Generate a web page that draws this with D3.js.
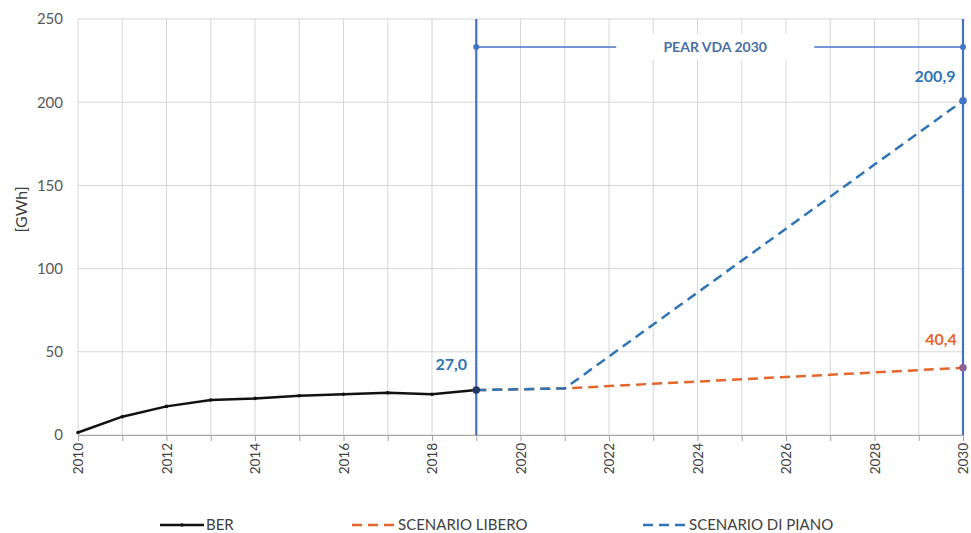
<!DOCTYPE html>
<html>
<head>
<meta charset="utf-8">
<script src="https://cdn.jsdelivr.net/npm/d3@7"></script>
<style>
  body { margin: 0; background: #fff; }
  #chart { width: 971px; height: 533px; }
  text { font-family: Lato, "Open Sans", sans-serif; }
</style>
</head>
<body>
<div id="chart"></div>
<script>
// data
const berYears = [2010, 2011, 2012, 2013, 2014, 2015, 2016, 2017, 2018, 2019];
const berValues = [1.5, 11, 17.2, 21, 22, 23.6, 24.5, 25.4, 24.5, 27.0];

const scenYears = [2019, 2020, 2021, 2022, 2023, 2024, 2025, 2026, 2027, 2028, 2029, 2030];
const liberoValues = [27.0, 27.5, 28, 29.4, 30.8, 32.1, 33.5, 34.9, 36.2, 37.6, 39.0, 40.4];
const pianoValues = [27.0, 27.5, 28, 47.2, 66.4, 85.6, 104.8, 124, 143.2, 162.5, 181.7, 200.9];

const yTicks = [0, 50, 100, 150, 200, 250];
const xTickYears = [2010, 2012, 2014, 2016, 2018, 2020, 2022, 2024, 2026, 2028, 2030];

const margin = {top: 19, right: 8, bottom: 98, left: 78};
const W = 971, H = 533;
const width = W - margin.left - margin.right;
const height = H - margin.top - margin.bottom;

const blueLine = "#2e75b6";
const orangeLine = "#e5662c";
const frameBlue = "#4472c4";

const svg = d3.select("#chart").append("svg")
    .attr("width", W)
    .attr("height", H)
    .append("g")
    .attr("transform", "translate(" + margin.left + "," + margin.top + ")");

const x = d3.scaleLinear().domain([2010, 2030]).range([0, width]);
const y = d3.scaleLinear().domain([0, 250]).range([height, 0]);

// gridlines
svg.append("g").selectAll("line")
    .data(d3.range(2010, 2031))
    .join("line")
    .attr("x1", d => x(d)).attr("x2", d => x(d))
    .attr("y1", 0).attr("y2", height)
    .attr("stroke", "#d6d6d6").attr("stroke-width", 1);

svg.append("g").selectAll("line")
    .data(yTicks)
    .join("line")
    .attr("x1", 0).attr("x2", width)
    .attr("y1", d => y(d)).attr("y2", d => y(d))
    .attr("stroke", "#d6d6d6").attr("stroke-width", 1);

// y axis labels
const yAxis = d3.axisLeft(y).tickValues(yTicks).tickSize(0).tickPadding(15);
svg.append("g").call(yAxis)
    .call(g => g.select(".domain").remove())
    .selectAll("text")
    .attr("fill", "#595959")
    .style("font-size", "15px")
    .style("font-family", "Lato, sans-serif");

// x axis
const xAxis = d3.axisBottom(x)
    .tickValues(d3.range(2010, 2031))
    .tickSize(6)
    .tickFormat(d => xTickYears.includes(d) ? d : "");
const gx = svg.append("g")
    .attr("transform", "translate(0," + height + ")")
    .call(xAxis);
gx.select(".domain").attr("stroke", "#a6a6a6");
gx.selectAll(".tick line").attr("stroke", "#a6a6a6");
gx.selectAll("text")
    .attr("fill", "#404040")
    .style("font-size", "13.5px")
    .style("font-family", "Lato, sans-serif")
    .attr("transform", "rotate(-90)")
    .attr("text-anchor", "end")
    .attr("x", -8)
    .attr("y", 0)
    .attr("dy", "0.35em");

// y label
svg.append("text")
    .attr("transform", "rotate(-90)")
    .attr("x", -(y(150) + 24))
    .attr("y", -margin.left + 21)
    .attr("dy", "0.35em")
    .attr("text-anchor", "middle")
    .attr("fill", "#404040")
    .style("font-size", "16px")
    .text("[GWh]");

// PEAR VDA 2030 frame
[2019, 2030].forEach(yr => {
    svg.append("line")
        .attr("x1", x(yr)).attr("x2", x(yr))
        .attr("y1", 0).attr("y2", height)
        .attr("stroke", frameBlue).attr("stroke-width", 2.2);
});
const arrowY = 28;
svg.append("line")
    .attr("x1", x(2019)).attr("x2", x(2030))
    .attr("y1", arrowY).attr("y2", arrowY)
    .attr("stroke", frameBlue).attr("stroke-width", 1.3);
[2019, 2030].forEach(yr => {
    svg.append("circle")
        .attr("cx", x(yr)).attr("cy", arrowY).attr("r", 3)
        .attr("fill", frameBlue);
});
const midYr = (2019 + 2030) / 2 - 0.1;
svg.append("rect")
    .attr("x", x(midYr) - 99).attr("y", arrowY - 13)
    .attr("width", 198).attr("height", 26)
    .attr("fill", "#fff");
svg.append("text")
    .attr("x", x(midYr)).attr("y", arrowY)
    .attr("dy", "0.35em")
    .attr("text-anchor", "middle")
    .attr("fill", "#4a6fa5")
    .style("font-size", "14px")
    .style("font-weight", "bold")
    .text("PEAR VDA 2030");

// lines
const line = d3.line().x(d => x(d[0])).y(d => y(d[1]));

svg.append("path")
    .datum(d3.zip(scenYears, liberoValues))
    .attr("d", line)
    .attr("fill", "none")
    .attr("stroke", orangeLine)
    .attr("stroke-width", 2.5)
    .attr("stroke-dasharray", "10,6");

svg.append("path")
    .datum(d3.zip(scenYears, pianoValues))
    .attr("d", line)
    .attr("fill", "none")
    .attr("stroke", blueLine)
    .attr("stroke-width", 2.5)
    .attr("stroke-dasharray", "10,6");

svg.append("path")
    .datum(d3.zip(berYears, berValues))
    .attr("d", line)
    .attr("fill", "none")
    .attr("stroke", "#111")
    .attr("stroke-width", 2.5);

svg.append("g").selectAll("circle")
    .data(d3.zip(berYears, berValues).slice(0, -1))
    .join("circle")
    .attr("cx", d => x(d[0])).attr("cy", d => y(d[1]))
    .attr("r", 1.8).attr("fill", "#111");

// end markers
svg.append("circle")
    .attr("cx", x(2019)).attr("cy", y(berValues[berValues.length - 1]))
    .attr("r", 3.8).attr("fill", "#1f3864");
svg.append("circle")
    .attr("cx", x(2030)).attr("cy", y(pianoValues[pianoValues.length - 1]))
    .attr("r", 3.8).attr("fill", frameBlue);
svg.append("circle")
    .attr("cx", x(2030)).attr("cy", y(liberoValues[liberoValues.length - 1]))
    .attr("r", 3.8).attr("fill", "#8a6390");

// data labels
const labels = [
    {yr: 2019, v: berValues[berValues.length - 1], dx: -25, dy: -26, color: blueLine},
    {yr: 2030, v: pianoValues[pianoValues.length - 1], dx: -28, dy: -24, color: blueLine},
    {yr: 2030, v: liberoValues[liberoValues.length - 1], dx: -22, dy: -28, color: orangeLine}
];
svg.append("g").selectAll("text")
    .data(labels)
    .join("text")
    .attr("x", d => x(d.yr) + d.dx)
    .attr("y", d => y(d.v) + d.dy)
    .attr("dy", "0.35em")
    .attr("text-anchor", "middle")
    .attr("fill", d => d.color)
    .style("font-size", "16px")
    .style("font-weight", "bold")
    .text(d => d3.format(".1f")(d.v).replace(".", ","));

// legend
const legendItems = [
    {name: "BER", color: "#111", dash: null, x0: 160 - margin.left},
    {name: "SCENARIO LIBERO", color: orangeLine, dash: "10,6", x0: 352 - margin.left},
    {name: "SCENARIO DI PIANO", color: blueLine, dash: "10,6", x0: 643 - margin.left}
];
const legY = 525 - margin.top;
const leg = svg.append("g").selectAll("g")
    .data(legendItems)
    .join("g")
    .attr("transform", d => "translate(" + d.x0 + "," + legY + ")");
leg.append("line")
    .attr("x1", 0).attr("x2", 44)
    .attr("stroke", d => d.color)
    .attr("stroke-width", 2.5)
    .attr("stroke-dasharray", d => d.dash);
leg.filter(d => !d.dash).append("circle")
    .attr("cx", 22).attr("r", 1.8).attr("fill", "#111");
leg.append("text")
    .attr("x", 46)
    .attr("dy", "0.35em")
    .attr("fill", "#404040")
    .style("font-size", "15px")
    .text(d => d.name);
</script>
</body>
</html>
